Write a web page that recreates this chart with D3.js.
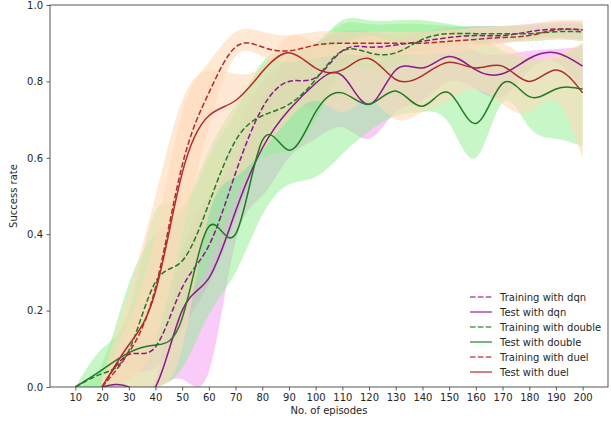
<!DOCTYPE html>
<html><head><meta charset="utf-8">
<script src="https://cdn.jsdelivr.net/npm/d3@7"></script>
<style>body{margin:0;background:#fff}svg{display:block}text{font-family:"DejaVu Sans",sans-serif}</style>
</head><body><svg id="c" width="611" height="421"></svg>
<script>
const episodes = [10,20,30,40,50,60,70,80,90,100,110,120,130,140,150,160,170,180,190,200];
const xTicks = episodes;
const yTicks = [0,0.2,0.4,0.6,0.8,1.0];

const dqnTrain    = [null,0,0.085,0.105,0.26,0.37,0.56,0.73,0.80,0.81,0.88,0.89,0.895,0.905,0.915,0.92,0.92,0.93,0.937,0.935];
const dqnTrainLo  = [null,0,0.04,0.05,0.15,0.27,0.44,0.63,0.75,0.73,0.84,0.86,0.87,0.88,0.89,0.895,0.9,0.91,0.915,0.91];
const dqnTrainHi  = [null,0,0.12,0.16,0.36,0.46,0.66,0.8,0.86,0.90,0.93,0.93,0.92,0.93,0.94,0.945,0.945,0.95,0.955,0.955];
const dqnTest     = [null,0,0,0,0.2,0.285,0.46,0.625,0.725,0.795,0.815,0.74,0.83,0.835,0.865,0.83,0.82,0.86,0.875,0.84];
const dqnTestLo   = [null,0,0,0,0.02,0.04,0.38,0.5,0.6,0.65,0.68,0.65,0.72,0.75,0.8,0.78,0.76,0.83,0.85,0.78];
const dqnTestHi   = [null,0,0,0.02,0.35,0.5,0.6,0.75,0.86,0.9,0.92,0.85,0.88,0.9,0.92,0.88,0.87,0.88,0.885,0.89];

const doubleTrain   = [0,0.035,0.095,0.275,0.33,0.48,0.645,0.71,0.74,0.805,0.88,0.875,0.875,0.91,0.925,0.925,0.925,0.925,0.93,0.93];
const doubleTrainLo = [0,0,0.02,0.1,0.2,0.33,0.5,0.6,0.62,0.7,0.82,0.83,0.84,0.88,0.9,0.9,0.905,0.905,0.91,0.905];
const doubleTrainHi = [0,0.06,0.27,0.4,0.47,0.62,0.74,0.84,0.88,0.9,0.95,0.95,0.95,0.95,0.945,0.945,0.945,0.945,0.95,0.95];
const doubleTest    = [0,0.045,0.09,0.11,0.18,0.42,0.40,0.645,0.62,0.72,0.77,0.74,0.775,0.735,0.77,0.69,0.795,0.76,0.78,0.78];
const doubleTestLo  = [0,0,0,0,0.05,0.19,0.3,0.45,0.53,0.55,0.61,0.67,0.71,0.72,0.69,0.6,0.745,0.68,0.65,0.63];
const doubleTestHi  = [0,0.1,0.2,0.46,0.47,0.6,0.72,0.85,0.88,0.9,0.96,0.96,0.96,0.96,0.95,0.93,0.88,0.86,0.86,0.9];

const duelTrain   = [null,0,0.09,0.26,0.58,0.77,0.89,0.89,0.88,0.895,0.9,0.9,0.9,0.9,0.905,0.91,0.915,0.92,0.935,0.935];
const duelTrainLo = [null,0,0.02,0.12,0.4,0.68,0.865,0.865,0.85,0.86,0.87,0.87,0.87,0.87,0.875,0.885,0.9,0.905,0.91,0.905];
const duelTrainHi = [null,0.02,0.17,0.4,0.72,0.85,0.93,0.93,0.92,0.93,0.93,0.93,0.93,0.93,0.935,0.94,0.945,0.95,0.96,0.96];
const duelTest    = [null,0,0.11,0.25,0.56,0.71,0.75,0.825,0.875,0.835,0.83,0.86,0.805,0.815,0.85,0.835,0.84,0.80,0.83,0.77];
const duelTestLo  = [null,0,0,0,0.1,0.45,0.55,0.62,0.7,0.75,0.72,0.75,0.7,0.72,0.75,0.78,0.74,0.72,0.75,0.6];
const duelTestHi  = [null,0.03,0.25,0.5,0.75,0.83,0.82,0.84,0.92,0.9,0.9,0.92,0.9,0.9,0.93,0.9,0.9,0.86,0.87,0.9];

const seriesNames = ["Training with dqn","Test with dqn","Training with double","Test with double","Training with duel","Test with duel"];
const lineColors = {dqn:"#8a198a", double:"#237a23", duel:"#b02c2c"};
const legendColors = {dqn:"#b34db3", double:"#4d9f4d", duel:"#c85454"};
const bandColors = {dqn:"#ee82ee", double:"#90ee90", duel:"#ffdab9"};
const bandOpacity = {dqn:0.42, double:0.5, duel:0.6};

const series = [
  {name:seriesNames[0], algo:"dqn", dashed:true, v:dqnTrain, lo:dqnTrainLo, hi:dqnTrainHi},
  {name:seriesNames[1], algo:"dqn", dashed:false, v:dqnTest, lo:dqnTestLo, hi:dqnTestHi},
  {name:seriesNames[2], algo:"double", dashed:true, v:doubleTrain, lo:doubleTrainLo, hi:doubleTrainHi},
  {name:seriesNames[3], algo:"double", dashed:false, v:doubleTest, lo:doubleTestLo, hi:doubleTestHi},
  {name:seriesNames[4], algo:"duel", dashed:true, v:duelTrain, lo:duelTrainLo, hi:duelTrainHi},
  {name:seriesNames[5], algo:"duel", dashed:false, v:duelTest, lo:duelTestLo, hi:duelTestHi}
];

const L=50, R=608, T=5, B=387;
const x = d3.scaleLinear().domain([0.5,209.5]).range([L,R]);
const y = d3.scaleLinear().domain([0,1]).range([B,T]);
const svg = d3.select("#c");

svg.append("clipPath").attr("id","clip").append("rect").attr("x",L).attr("y",T).attr("width",R-L).attr("height",B-T);
const plot = svg.append("g").attr("clip-path","url(#clip)");

function pts(s, key){ return episodes.map((e,i)=>({e, v:s[key][i], lo:s.lo[i], hi:s.hi[i]})).filter(d=>d.v!==null); }

const area = d3.area().x(d=>x(d.e)).y0(d=>y(d.lo)).y1(d=>y(d.hi)).curve(d3.curveNatural);
const line = d3.line().x(d=>x(d.e)).y(d=>y(d.v)).curve(d3.curveNatural);

series.forEach(s=>{
  plot.append("path").attr("d", area(pts(s,"v"))).attr("fill", bandColors[s.algo]).attr("fill-opacity", bandOpacity[s.algo]).attr("stroke","none");
});
series.forEach(s=>{
  plot.append("path").attr("d", line(pts(s,"v"))).attr("fill","none").attr("stroke", lineColors[s.algo])
    .attr("stroke-width",1.5).attr("stroke-dasharray", s.dashed ? "5.5,2.4" : null);
});

// axes
const xa = svg.append("g").attr("transform",`translate(0,${B})`).call(d3.axisBottom(x).tickValues(xTicks).tickSize(3.5).tickPadding(3.5));
const ya = svg.append("g").attr("transform",`translate(${L},0)`).call(d3.axisLeft(y).tickValues(yTicks).tickFormat(d3.format(".1f")).tickSize(3.5).tickPadding(3.5));
[xa,ya].forEach(a=>{
  a.selectAll("text").attr("font-size",10).attr("fill","#262626").attr("font-family","DejaVu Sans");
  a.selectAll("line").attr("stroke","#333").attr("stroke-width",0.8);
  a.select(".domain").remove();
});
svg.append("rect").attr("x",L).attr("y",T).attr("width",R-L).attr("height",B-T).attr("fill","none").attr("stroke","#444").attr("stroke-width",0.9);

svg.append("text").attr("x",(L+R)/2).attr("y",414).attr("text-anchor","middle").attr("font-size",10).attr("fill","#262626").text("No. of episodes");
svg.append("text").attr("transform",`translate(17,${(T+B)/2}) rotate(-90)`).attr("text-anchor","middle").attr("font-size",10).attr("fill","#262626").text("Success rate");

// legend
const lg = svg.append("g").attr("transform","translate(470,297)");
series.forEach((s,i)=>{
  const g = lg.append("g").attr("transform",`translate(0,${i*15})`);
  g.append("line").attr("x1",0).attr("x2",22).attr("y1",0).attr("y2",0).attr("stroke",legendColors[s.algo]).attr("stroke-width",1.5)
    .attr("stroke-dasharray", s.dashed ? "5.5,2.4" : null);
  g.append("text").attr("x",30).attr("y",3.5).attr("font-size",10).attr("fill","#262626").text(s.name);
});
</script></body></html>
